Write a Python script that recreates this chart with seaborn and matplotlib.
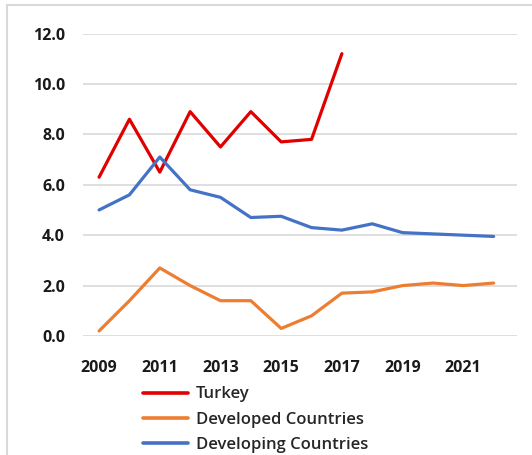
import numpy as np
import pandas as pd
import matplotlib
matplotlib.use("Agg")
import matplotlib.pyplot as plt
from matplotlib.lines import Line2D
import seaborn as sns

years = list(range(2009, 2023))
turkey = [6.3, 8.6, 6.5, 8.9, 7.5, 8.9, 7.7, 7.8, 11.2,
          np.nan, np.nan, np.nan, np.nan, np.nan]
developed = [0.2, 1.4, 2.7, 2.0, 1.4, 1.4, 0.3, 0.8, 1.7, 1.75, 2.0, 2.1, 2.0, 2.1]
developing = [5.0, 5.6, 7.1, 5.8, 5.5, 4.7, 4.75, 4.3, 4.2, 4.45, 4.1, 4.05, 4.0, 3.95]

series_names = ["Turkey", "Developed Countries", "Developing Countries"]
series_colors = ["#E00000", "#ED7D31", "#4472C4"]
y_ticks = [0, 2, 4, 6, 8, 10, 12]
x_ticks = [2009, 2011, 2013, 2015, 2017, 2019, 2021]

df = pd.DataFrame({"Year": years,
                   series_names[0]: turkey,
                   series_names[1]: developed,
                   series_names[2]: developing})
long = df.melt(id_vars="Year", var_name="Series", value_name="Value")

sns.set_theme(style="white")
plt.rcParams["font.family"] = ["Open Sans", "DejaVu Sans"]

W, H = 532, 455
fig = plt.figure(figsize=(W / 100, H / 100), dpi=100)
ax = fig.add_axes([83 / W, 1 - 336 / H, 434 / W, 302.5 / H])

sns.lineplot(data=long, x="Year", y="Value", hue="Series",
             hue_order=series_names, palette=series_colors,
             linewidth=2.3, ax=ax, legend=False, sort=True)

ax.set_xlim(2008.47, 2022.77)
ax.set_ylim(0, 12)
ax.set_yticks(y_ticks)
ax.set_yticklabels([f"{v:.1f}" for v in y_ticks])
ax.set_xticks(x_ticks)
ax.set_xticklabels([str(v) for v in x_ticks])
ax.tick_params(axis="y", length=0, pad=13, labelsize=11.5, labelcolor="#1a1a1a")
ax.tick_params(axis="x", length=0, pad=17, labelsize=11.5, labelcolor="#1a1a1a")
for lbl in ax.get_xticklabels() + ax.get_yticklabels():
    lbl.set_fontweight("bold")
ax.set_xlabel("")
ax.set_ylabel("")
ax.yaxis.grid(True, color="#D9D9D9", linewidth=1.2)
ax.set_axisbelow(True)
for s in ax.spines.values():
    s.set_visible(False)

handles = [Line2D([], [], color=c, linewidth=2.6) for c in series_colors]
fig.legend(handles, series_names, loc="upper left",
           bbox_to_anchor=(140 / W, 1 - 383 / H), frameon=False,
           prop={"size": 12, "weight": "semibold"},
           handlelength=2.7, handletextpad=0.45,
           labelspacing=0.55, borderaxespad=0, borderpad=0.2)

# outer chart frame (top and left edges)
fig.add_artist(Line2D([7 / W, 1], [1 - 5 / H, 1 - 5 / H], transform=fig.transFigure,
                      color="#D9D9D9", linewidth=1.5))
fig.add_artist(Line2D([7 / W, 7 / W], [0, 1 - 5 / H], transform=fig.transFigure,
                      color="#D9D9D9", linewidth=1.5))

fig.savefig("out.png", dpi=100)
